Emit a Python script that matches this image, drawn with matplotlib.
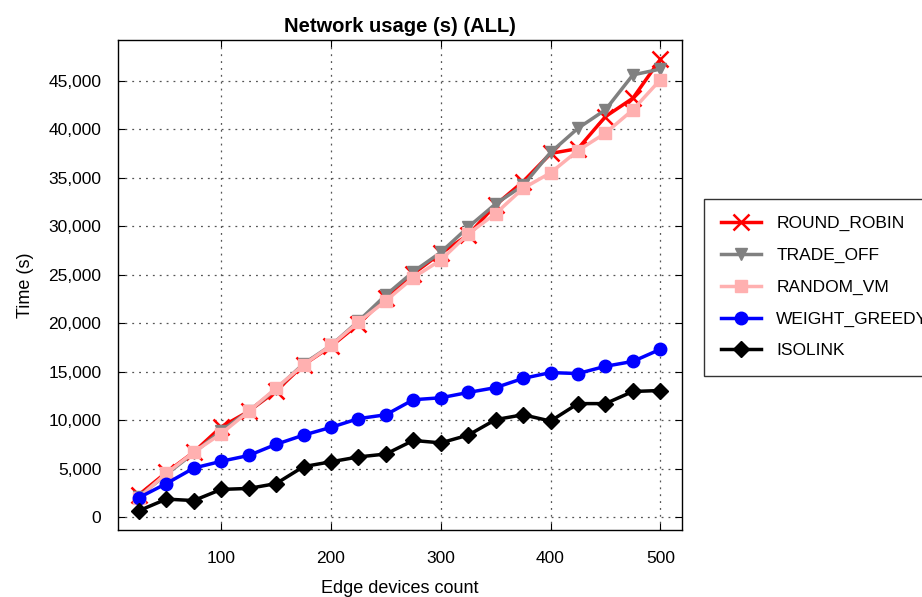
import matplotlib
matplotlib.use("Agg")
import matplotlib.pyplot as plt
from matplotlib.ticker import FuncFormatter, MultipleLocator

plt.rcParams['font.family'] = ['Liberation Sans', 'DejaVu Sans']

devices = [25, 50, 75, 100, 125, 150, 175, 200, 225, 250,
           275, 300, 325, 350, 375, 400, 425, 450, 475, 500]

round_robin = [2300, 4600, 6700, 9300, 10900, 13000, 15700, 17600, 19900, 22600,
               25100, 27200, 29100, 32200, 34600, 37500, 38000, 41300, 43200, 47200]
trade_off = [2100, 4400, 6600, 8900, 10900, 13200, 15800, 17700, 20200, 22900,
             25300, 27300, 29900, 32300, 34200, 37600, 40100, 42000, 45600, 46200]
random_vm = [2000, 4500, 6700, 8600, 10900, 13300, 15700, 17700, 20100, 22300,
             24700, 26500, 29200, 31300, 33900, 35500, 37800, 39600, 42000, 45100]
weight_greedy = [2000, 3450, 5050, 5750, 6350, 7500, 8450, 9250, 10150, 10550,
                 12100, 12300, 12850, 13350, 14300, 14900, 14800, 15550, 16050, 17300]
isolink = [650, 1850, 1700, 2850, 2950, 3450, 5200, 5700, 6200, 6500,
           7900, 7650, 8450, 10050, 10550, 9900, 11700, 11700, 12950, 13050]

series = [
    ("ROUND_ROBIN", round_robin, "#ff0000", "x", 11),
    ("TRADE_OFF", trade_off, "#808080", "v", 9),
    ("RANDOM_VM", random_vm, "#ffb0b0", "s", 9),
    ("WEIGHT_GREEDY", weight_greedy, "#0000ff", "o", 9),
    ("ISOLINK", isolink, "#000000", "D", 8),
]

fig = plt.figure(figsize=(9.22, 5.97), dpi=100)
ax = fig.add_axes([0.128, 0.112, 0.612, 0.821])

for name, vals, color, marker, ms in series:
    ax.plot(devices, vals, color=color, marker=marker, markersize=ms,
            linewidth=2.5, markeredgewidth=1.8 if marker == "x" else 1,
            markeredgecolor=color, label=name)

ax.set_xlim(6, 520)
ax.set_ylim(-1350, 49200)
ax.xaxis.set_major_locator(MultipleLocator(100))
ax.yaxis.set_major_locator(MultipleLocator(5000))
ax.yaxis.set_major_formatter(FuncFormatter(lambda v, p: f"{int(v):,}"))
ax.tick_params(direction='in', top=True, right=True, labelsize=12.5, length=5)
ax.tick_params(axis='y', pad=12)
ax.tick_params(axis='x', pad=15)
ax.grid(True, linestyle=(0, (1.5, 4)), color='#555555', linewidth=0.9)
for s in ax.spines.values():
    s.set_linewidth(1.0)

ax.set_title("Network usage (s) (ALL)", fontsize=14.5, fontweight='bold', pad=6)
ax.set_xlabel("Edge devices count", fontsize=13, labelpad=10)
ax.set_ylabel("Time (s)", fontsize=13, labelpad=10)

leg = fig.legend(loc='upper left', bbox_to_anchor=(0.7636, 0.667),
                 fontsize=12.5, frameon=True, fancybox=False,
                 edgecolor='black', handlelength=2.3, handletextpad=0.86,
                 labelspacing=0.95, borderpad=1.0, borderaxespad=0)
leg.get_frame().set_linewidth(1.0)

fig.savefig("out.png", dpi=100)
